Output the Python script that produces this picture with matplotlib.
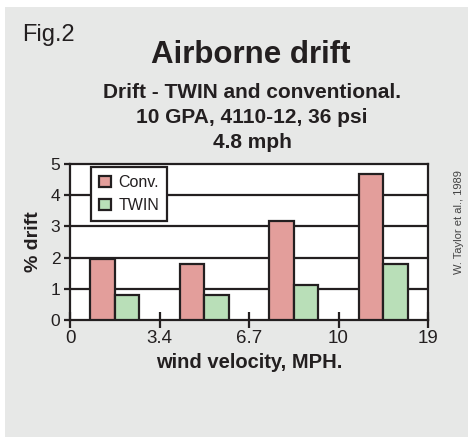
import matplotlib
matplotlib.use("Agg")
from matplotlib import pyplot as plt
from matplotlib.patches import Rectangle

# data
speed_labels = ["0", "3.4", "6.7", "10", "19"]
conv = [1.97, 1.80, 3.18, 4.68]
twin = [0.80, 0.80, 1.12, 1.80]

ink = "#231f20"
conv_col = "#e39e9b"
twin_col = "#b9dfb8"
sans = ["Liberation Sans", "DejaVu Sans"]
narrow = ["Liberation Sans Narrow", "Liberation Sans", "DejaVu Sans"]

fig = plt.figure(figsize=(4.68, 4.37), dpi=100)
fig.patch.set_facecolor("white")
fig.patches.append(Rectangle((5 / 468, 0), 1, 430 / 437, transform=fig.transFigure,
                             facecolor="#e7e8e7", edgecolor="none", zorder=-10))

ax = fig.add_axes([70 / 468, 1 - 320 / 437, 358 / 468, 156 / 437])
ax.set_facecolor("white")

centers = [i + 0.5 for i in range(len(conv))]
w = 0.275
b1 = ax.bar([c - w / 2 for c in centers], conv, width=w, color=conv_col,
            edgecolor=ink, linewidth=1.6, label="Conv.", zorder=3)
b2 = ax.bar([c + w / 2 for c in centers], twin, width=w, color=twin_col,
            edgecolor=ink, linewidth=1.6, label="TWIN", zorder=3)

ax.set_xlim(0, 4)
ax.set_ylim(0, 5)
ax.set_xticks(range(len(speed_labels)))
ax.set_xticklabels(speed_labels, family=sans, fontsize=13.5, color=ink)
ax.set_yticks(range(6))
ax.set_yticklabels([str(v) for v in range(6)], family=sans, fontsize=12.5, color=ink)
ax.tick_params(axis="x", direction="inout", length=11, width=1.6, color=ink, pad=2)
ax.tick_params(axis="y", direction="out", length=4, width=1.6, color=ink, pad=3)
for y in range(1, 5):
    ax.axhline(y, color=ink, lw=1.6, zorder=1)
for s in ax.spines.values():
    s.set_color(ink)
    s.set_linewidth(1.6)

ax.set_xlabel("wind velocity, MPH.", family=sans, fontsize=14.5, fontweight="bold",
              color=ink, labelpad=4)
ax.set_ylabel("% drift", family=sans, fontsize=14, fontweight="bold", color=ink, labelpad=6)

leg = ax.legend(handles=[b1, b2], loc="upper left", bbox_to_anchor=(0.058, 0.98),
                borderaxespad=0, fancybox=False, framealpha=1, edgecolor=ink,
                handlelength=0.75, handleheight=0.75, handletextpad=0.5,
                borderpad=0.5, labelspacing=0.5,
                prop={"family": sans, "size": 11.5})
leg.get_frame().set_linewidth(1.6)
for t in leg.get_texts():
    t.set_color(ink)

fig.text(22 / 468, 1 - 41 / 437, "Fig.2", family=narrow, fontsize=17, color=ink,
         ha="left", va="baseline")
fig.text(251 / 468, 1 - 63 / 437, "Airborne drift", family=sans, fontsize=22.5,
         fontweight="bold", color=ink, ha="center", va="baseline")
subtitle = ["Drift - TWIN and conventional.", "10 GPA, 4110-12, 36 psi", "4.8 mph"]
for i, line in enumerate(subtitle):
    fig.text(252 / 468, 1 - (98 + 25 * i) / 437, line, family=sans, fontsize=15,
             fontweight="bold", color=ink, ha="center", va="baseline")
fig.text(459 / 468, 1 - 222 / 437, "W. Taylor et al., 1989", family=narrow, fontsize=8,
         color="#444444", rotation=90, ha="center", va="center")

fig.savefig("out.png", dpi=100, facecolor=fig.get_facecolor())
